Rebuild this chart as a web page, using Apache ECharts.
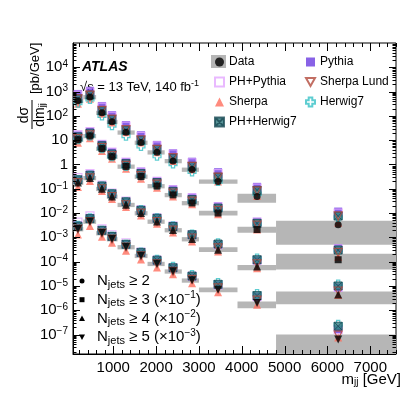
<!DOCTYPE html>
<html>
<head>
<meta charset="utf-8">
<style>
    html, body { margin: 0; padding: 0; background: #fff; }
    #chart { width: 407px; height: 395px; }
</style>
<script src="https://cdn.jsdelivr.net/npm/echarts@6/dist/echarts.min.js"></script>
</head>
<body>
<div id="chart"></div>
<script>
// m_jj bins [GeV]
var binEdges = [60, 300, 600, 850, 1100, 1500, 1800, 2200, 2600, 3000, 3900, 4800, 7600]
var binCenters = [175, 456, 736, 970, 1297, 1647, 2021, 2395, 2839, 3446, 4357, 6250]

// Njets >= 2
var data2 = [420, 600, 135, 57, 21, 8.0, 3.2, 1.4, 0.62, 0.20, 0.048, 0.0033]
var uncLo2 = [0.2, 0.2, 0.2, 0.2, 0.2, 0.2, 0.2, 0.2, 0.2, 0.2, 0.45, 0.85]
var uncHi2 = [0.2, 0.2, 0.2, 0.2, 0.2, 0.2, 0.2, 0.2, 0.2, 0.2, 0.3, 0.45]
var pythia2 = [800, 1080, 256, 108, 42, 16, 6.4, 2.9, 1.3, 0.48, 0.12, 0.0115]
var phPythia2 = [710, 960, 230, 97, 38, 14.4, 5.8, 2.7, 1.18, 0.42, 0.106, 0.0099]
var sherpa2 = [315, 510, 122, 54, 21, 8.0, 3.2, 1.4, 0.62, 0.20, 0.050, 0.0040]
var sherpaLund2 = [500, 720, 169, 74, 27, 10.4, 4.2, 1.9, 0.84, 0.30, 0.082, 0.0076]
var phHerwig2 = [505, 720, 162, 71, 26, 10, 4.2, 1.8, 0.84, 0.30, 0.086, 0.0075]
var herwig2 = [336, 480, 101, 40, 14.7, 5.6, 2.2, 1.05, 0.50, 0.20, 0.062, 0.0066]

// Njets >= 3 (x 1e-1)
var data3 = [10.5, 15, 4.5, 2.1, 0.83, 0.32, 0.13, 0.056, 0.026, 0.010, 0.0021, 1.2e-4]
var uncLo3 = [0.2, 0.2, 0.2, 0.2, 0.2, 0.2, 0.2, 0.2, 0.2, 0.2, 0.27, 0.6]
var uncHi3 = [0.2, 0.2, 0.2, 0.2, 0.2, 0.2, 0.2, 0.2, 0.2, 0.25, 0.3, 0.75]
var pythia3 = [15.8, 22.5, 6.8, 3.2, 1.25, 0.51, 0.21, 0.095, 0.044, 0.019, 0.0044, 3.6e-4]
var phPythia3 = [16.8, 22.5, 6.8, 3.2, 1.25, 0.48, 0.20, 0.090, 0.042, 0.018, 0.0042, 3.4e-4]
var sherpa3 = [7.9, 12, 3.6, 1.7, 0.66, 0.26, 0.11, 0.048, 0.023, 0.009, 0.0021, 1.6e-4]
var sherpaLund3 = [11.6, 16.5, 5.0, 2.3, 0.91, 0.35, 0.156, 0.067, 0.031, 0.013, 0.0032, 2.4e-4]
var phHerwig3 = [13.7, 19.5, 5.9, 2.7, 1.08, 0.42, 0.18, 0.078, 0.036, 0.016, 0.0038, 3.0e-4]
var herwig3 = [10.5, 15, 4.5, 2.1, 0.83, 0.35, 0.143, 0.067, 0.031, 0.014, 0.0036, 2.9e-4]

// Njets >= 4 (x 1e-2)
var data4 = [0.18, 0.28, 0.10, 0.048, 0.022, 0.010, 0.0045, 0.0020, 8.5e-4, 3.1e-4, 6.3e-5, 4.4e-6]
var uncLo4 = [0.2, 0.2, 0.2, 0.2, 0.2, 0.2, 0.2, 0.2, 0.2, 0.2, 0.3, 0.6]
var uncHi4 = [0.2, 0.2, 0.2, 0.2, 0.2, 0.2, 0.2, 0.2, 0.2, 0.25, 0.15, 0.35]
var pythia4 = [0.234, 0.39, 0.13, 0.062, 0.029, 0.013, 0.0063, 0.0028, 1.28e-3, 5.0e-4, 1.13e-4, 8.4e-6]
var phPythia4 = [0.29, 0.42, 0.14, 0.067, 0.031, 0.014, 0.0063, 0.0030, 1.28e-3, 5.0e-4, 1.13e-4, 8.8e-6]
var sherpa4 = [0.117, 0.21, 0.080, 0.038, 0.0176, 0.008, 0.0036, 0.0016, 6.8e-4, 2.6e-4, 5.4e-5, 4.2e-6]
var sherpaLund4 = [0.18, 0.28, 0.10, 0.048, 0.022, 0.010, 0.0045, 0.0020, 9.4e-4, 3.7e-4, 8.2e-5, 6.2e-6]
var phHerwig4 = [0.234, 0.36, 0.13, 0.062, 0.029, 0.013, 0.0061, 0.0028, 1.28e-3, 5.3e-4, 1.2e-4, 1.0e-5]
var herwig4 = [0.234, 0.36, 0.13, 0.062, 0.029, 0.014, 0.0063, 0.0030, 1.36e-3, 5.9e-4, 1.39e-4, 1.19e-5]

// Njets >= 5 (x 1e-3)
var data5 = [0.0022, 0.0045, 0.0015, 8.5e-4, 4.0e-4, 1.75e-4, 8.2e-5, 4.0e-5, 1.7e-5, 6.9e-6, 2.0e-6, 6.3e-8]
var uncLo5 = [0.2, 0.2, 0.2, 0.2, 0.2, 0.2, 0.2, 0.2, 0.2, 0.2, 0.4, 0.9]
var uncHi5 = [0.2, 0.2, 0.2, 0.2, 0.2, 0.2, 0.2, 0.2, 0.2, 0.25, 0.15, 0.6]
var pythia5 = [0.0031, 0.0063, 0.00195, 1.1e-3, 5.2e-4, 2.3e-4, 1.15e-4, 5.6e-5, 2.4e-5, 1.1e-5, 3.6e-6, 1.64e-7]
var phPythia5 = [0.0042, 0.0077, 0.00225, 1.28e-3, 6.0e-4, 2.45e-4, 1.15e-4, 5.6e-5, 2.55e-5, 1.1e-5, 3.6e-6, 1.58e-7]
var sherpa5 = [0.00132, 0.0029, 0.00105, 6.0e-4, 2.8e-4, 1.23e-4, 5.7e-5, 3.0e-5, 1.28e-5, 5.5e-6, 1.7e-6, 7.6e-8]
var sherpaLund5 = [0.0022, 0.0045, 0.0015, 8.5e-4, 4.0e-4, 1.75e-4, 8.2e-5, 4.0e-5, 1.87e-5, 8.3e-6, 2.6e-6, 9.5e-8]
var phHerwig5 = [0.0029, 0.0059, 0.00195, 1.1e-3, 5.2e-4, 2.4e-4, 1.15e-4, 5.6e-5, 2.55e-5, 1.17e-5, 4.0e-6, 2.2e-7]
var herwig5 = [0.0031, 0.0063, 0.00195, 1.1e-3, 5.2e-4, 2.45e-4, 1.23e-4, 6.4e-5, 2.9e-5, 1.38e-5, 4.8e-6, 2.6e-7]

// axes
var xMin = 60, xMax = 7600
var yMin = 1.58e-8, yMax = 1e5
var xTickLabels = [1000, 2000, 3000, 4000, 5000, 6000, 7000]
var yTickLabels = [1e-7, 1e-6, 1e-5, 1e-4, 1e-3, 1e-2, 1e-1, 1, 10, 1e2, 1e3, 1e4]

var FONT = 'Liberation Sans, Arial, Helvetica, sans-serif'

var groups = [
    { data: data2, lo: uncLo2, hi: uncHi2, symbol: 'circle', size: 7,
      mc: [pythia2, phPythia2, sherpa2, herwig2, phHerwig2, sherpaLund2] },
    { data: data3, lo: uncLo3, hi: uncHi3, symbol: 'rect', size: 7,
      mc: [pythia3, phPythia3, sherpa3, herwig3, phHerwig3, sherpaLund3] },
    { data: data4, lo: uncLo4, hi: uncHi4, symbol: 'triangle', size: 8,
      mc: [pythia4, phPythia4, sherpa4, herwig4, phHerwig4, sherpaLund4] },
    { data: data5, lo: uncLo5, hi: uncHi5, symbol: 'path://M0,0L10,0L5,9Z', size: 8,
      mc: [pythia5, phPythia5, sherpa5, herwig5, phHerwig5, sherpaLund5] }
]

// same order as groups[i].mc (drawing order)
var mcStyles = [
    { name: 'Pythia', symbol: 'rect', size: 8, itemStyle: { color: '#6a3be0' } },
    { name: 'PH+Pythia', symbol: 'path://M0,0L10,0L10,10L0,10Z', size: 8,
      itemStyle: { color: 'rgba(0,0,0,0)', borderColor: '#e3a8ff', borderWidth: 1.2 } },
    { name: 'Sherpa', symbol: 'triangle', size: 8, itemStyle: { color: '#ff6e5e' } },
    { name: 'Herwig7', symbol: 'path://M3,0L7,0L7,3L10,3L10,7L7,7L7,10L3,10L3,7L0,7L0,3L3,3Z', size: 8,
      itemStyle: { color: 'rgba(0,0,0,0)', borderColor: '#36c0c6', borderWidth: 1.2 } },
    { name: 'PH+Herwig7', symbol: 'path://M0,0L10,0L10,10L0,10ZM0,0L10,10M10,0L0,10', size: 8,
      itemStyle: { color: '#2f7a80', borderColor: '#1b4b55', borderWidth: 1 } },
    { name: 'Sherpa Lund', symbol: 'path://M0,0L10,0L5,9Z', size: 8,
      itemStyle: { color: 'rgba(0,0,0,0)', borderColor: '#b34a3c', borderWidth: 1.2 } }
]

function zip(xs, ys) {
    return xs.map(function (x, i) { return [x, ys[i]] })
}

function powLabel(v) {
    var e = Math.round(Math.log(v) / Math.LN10)
    if (e === 0) return '{b|1}'
    if (e === 1) return '{b|10}'
    return '{b|10}{e|' + (e < 0 ? '\u2212' + (-e) : e) + '}'
}

var chart = echarts.init(document.getElementById('chart'))

var series = []

// data uncertainty boxes
var boxes = []
groups.forEach(function (g) {
    g.data.forEach(function (v, i) {
        boxes.push([binEdges[i], binEdges[i + 1], v * (1 - g.lo[i]), v * (1 + g.hi[i])])
    })
})
series.push({
    name: 'box',
    type: 'custom',
    silent: true,
    z: 1,
    encode: { x: [0, 1], y: [2, 3] },
    data: boxes,
    renderItem: function (params, api) {
        var cs = params.coordSys
        var p1 = api.coord([api.value(0), api.value(3)])
        var p2 = api.coord([api.value(1), api.value(2)])
        var y1 = Math.max(p1[1], cs.y)
        var y2 = Math.min(p2[1], cs.y + cs.height)
        var x2 = Math.min(p2[0], cs.x + cs.width)
        return {
            type: 'rect',
            shape: { x: p1[0], y: y1, width: x2 - p1[0], height: y2 - y1 },
            style: { fill: '#b6b6b6' }
        }
    }
})

// MC predictions
groups.forEach(function (g) {
    mcStyles.forEach(function (s, k) {
        series.push({
            name: s.name,
            type: 'scatter',
            z: 3,
            symbol: s.symbol,
            symbolSize: s.size,
            itemStyle: s.itemStyle,
            data: zip(binCenters, g.mc[k])
        })
    })
})

// data
groups.forEach(function (g) {
    series.push({
        name: 'Data',
        type: 'scatter',
        z: 4,
        symbol: g.symbol,
        symbolSize: g.size,
        itemStyle: { color: '#000' },
        data: zip(binCenters, g.data)
    })
})

// frame ticks (inside, all four sides)
var ticks = []
for (var t = 200; t <= xMax; t += 200) {
    ticks.push([t, 1, 0, t % 1000 === 0 ? 8 : 4])
}
for (var k = -8; k <= 4; k++) {
    for (var m = 1; m <= 9; m++) {
        var val = m * Math.pow(10, k)
        if (val < yMin || val > yMax) continue
        ticks.push([1000, val, 1, m === 1 ? 7 : 3.5])
    }
}
series.push({
    name: 'ticks',
    type: 'custom',
    silent: true,
    z: 5,
    encode: { x: 0, y: 1 },
    data: ticks,
    renderItem: function (params, api) {
        var cs = params.coordSys
        var len = api.value(3)
        var st = { stroke: '#000', lineWidth: 1 }
        if (api.value(2) === 0) {
            var px = Math.round(api.coord([api.value(0), 1])[0]) + 0.5
            return { type: 'group', children: [
                { type: 'line', shape: { x1: px, y1: cs.y + cs.height, x2: px, y2: cs.y + cs.height - len }, style: st },
                { type: 'line', shape: { x1: px, y1: cs.y, x2: px, y2: cs.y + len }, style: st }
            ] }
        }
        var py = Math.round(api.coord([1000, api.value(1)])[1]) + 0.5
        return { type: 'group', children: [
            { type: 'line', shape: { x1: cs.x, y1: py, x2: cs.x + len, y2: py }, style: st },
            { type: 'line', shape: { x1: cs.x + cs.width, y1: py, x2: cs.x + cs.width - len, y2: py }, style: st }
        ] }
    }
})

var legendText = { fontFamily: FONT, fontSize: 12, color: '#000' }

var options = {
    animation: false,
    grid: {
        left: 73, right: 11, top: 43, bottom: 41,
        show: true, borderColor: '#000', borderWidth: 1
    },
    legend: [
        {
            orient: 'vertical', left: 214, top: 52, padding: 0,
            itemWidth: 9, itemHeight: 9, itemGap: 0,
            textStyle: Object.assign({ lineHeight: 20 }, legendText),
            data: ['Data', 'PH+Pythia', 'Sherpa', 'PH+Herwig7']
        },
        {
            orient: 'vertical', left: 305, top: 52, padding: 0,
            itemWidth: 9, itemHeight: 9, itemGap: 0,
            textStyle: Object.assign({ lineHeight: 20 }, legendText),
            data: ['Pythia', 'Sherpa Lund', 'Herwig7']
        }
    ],
    xAxis: {
        type: 'value', min: xMin, max: xMax,
        axisLine: { lineStyle: { color: '#000' } },
        axisTick: { show: false },
        splitLine: { show: false },
        axisLabel: {
            customValues: xTickLabels,
            formatter: function (v) { return String(v) },
            color: '#000', fontFamily: FONT, fontSize: 15, margin: 6
        }
    },
    yAxis: {
        type: 'log', logBase: 10, min: yMin, max: yMax,
        axisLine: { lineStyle: { color: '#000' } },
        axisTick: { show: false },
        minorTick: { show: false },
        splitLine: { show: false },
        axisLabel: {
            customValues: yTickLabels,
            formatter: powLabel,
            margin: 5,
            rich: {
                b: { fontFamily: FONT, fontSize: 15, color: '#000', lineHeight: 16 },
                e: { fontFamily: FONT, fontSize: 10, color: '#000', verticalAlign: 'top', lineHeight: 10 }
            }
        }
    },
    graphic: [
        // gray band behind the Data legend marker
        { type: 'rect', left: 211, top: 55, z: 0, shape: { width: 15, height: 13 }, style: { fill: '#b6b6b6' } },
        {
            type: 'text', left: 82, top: 60,
            style: { text: 'ATLAS', font: 'italic bold 14px ' + FONT, fill: '#000' }
        },
        {
            type: 'text', left: 80, top: 79,
            style: {
                text: '{t|\u221As = 13 TeV, 140 fb}{s|-1}',
                rich: {
                    t: { fontFamily: FONT, fontSize: 13, fill: '#000', lineHeight: 16 },
                    s: { fontFamily: FONT, fontSize: 9, fill: '#000', verticalAlign: 'top', lineHeight: 9 }
                }
            }
        },
        // y axis title
        {
            type: 'group', x: 32, y: 133, rotation: Math.PI / 2,
            children: [
                { type: 'text', x: 18, y: -1, style: { text: 'd\u03c3', font: '14px ' + FONT, fill: '#000', textAlign: 'center', textVerticalAlign: 'bottom' } },
                { type: 'line', shape: { x1: 4, y1: 0, x2: 33, y2: 0 }, style: { stroke: '#000', lineWidth: 1 } },
                {
                    type: 'text', x: 18, y: 1,
                    style: {
                        text: '{a|dm}{b|jj}', textAlign: 'center', textVerticalAlign: 'top',
                        rich: {
                            a: { fontFamily: FONT, fontSize: 14, fill: '#000', lineHeight: 14 },
                            b: { fontFamily: FONT, fontSize: 9, fill: '#000', verticalAlign: 'bottom', lineHeight: 9 }
                        }
                    }
                },
                { type: 'text', x: 39, y: 3, style: { text: '[pb/GeV]', font: '13px ' + FONT, fill: '#000', textVerticalAlign: 'middle' } }
            ]
        },
        // x axis title
        {
            type: 'text', right: 6, top: 372,
            style: {
                text: '{a|m}{b|jj}{a| [GeV]}',
                rich: {
                    a: { fontFamily: FONT, fontSize: 15, fill: '#000', lineHeight: 16 },
                    b: { fontFamily: FONT, fontSize: 10, fill: '#000', verticalAlign: 'bottom', lineHeight: 10 }
                }
            }
        }
    ],
    series: series
}

// multiplicity key, bottom left
var njetsKey = [
    { shape: 'circle', text: '{n|N}{j|jets}{n| \u2265 2}' },
    { shape: 'rect', text: '{n|N}{j|jets}{n| \u2265 3 (\u00d710}{e|\u22121}{n|)}' },
    { shape: 'triangle', text: '{n|N}{j|jets}{n| \u2265 4 (\u00d710}{e|\u22122}{n|)}' },
    { shape: 'down', text: '{n|N}{j|jets}{n| \u2265 5 (\u00d710}{e|\u22123}{n|)}' }
]
var keyRich = {
    n: { fontFamily: FONT, fontSize: 15, fill: '#000', lineHeight: 18 },
    j: { fontFamily: FONT, fontSize: 11, fill: '#000', verticalAlign: 'bottom', lineHeight: 11 },
    e: { fontFamily: FONT, fontSize: 10, fill: '#000', verticalAlign: 'top', lineHeight: 10 }
}
njetsKey.forEach(function (row, i) {
    var cy = 281 + i * 18.7
    var mark
    if (row.shape === 'circle') {
        mark = { type: 'circle', shape: { cx: 82, cy: cy, r: 2.5 }, style: { fill: '#000' } }
    } else if (row.shape === 'rect') {
        mark = { type: 'rect', shape: { x: 79.5, y: cy - 2.5, width: 5, height: 5 }, style: { fill: '#000' } }
    } else if (row.shape === 'triangle') {
        mark = { type: 'polygon', shape: { points: [[82, cy - 3], [85, cy + 2.5], [79, cy + 2.5]] }, style: { fill: '#000' } }
    } else {
        mark = { type: 'polygon', shape: { points: [[79, cy - 2.5], [85, cy - 2.5], [82, cy + 3]] }, style: { fill: '#000' } }
    }
    options.graphic.push(mark)
    options.graphic.push({
        type: 'text', x: 97, y: cy, z: 10,
        style: { text: row.text, rich: keyRich, textVerticalAlign: 'middle' }
    })
})

chart.setOption(options)
</script>
</body>
</html>
